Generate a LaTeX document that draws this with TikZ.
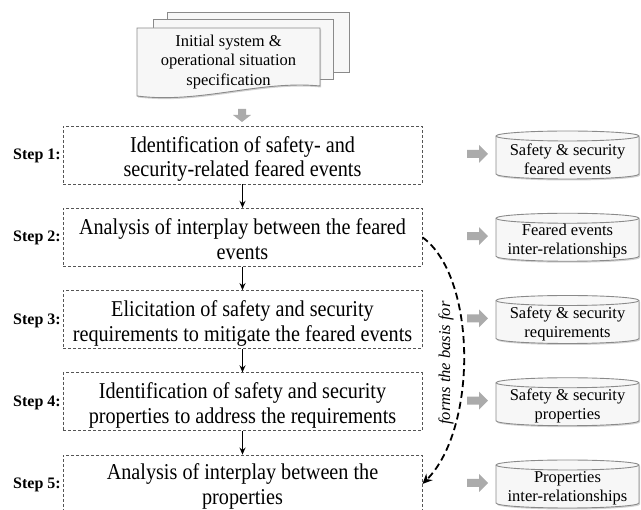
\documentclass[tikz,border=0pt]{standalone}
\usepackage{fontspec}
\setmainfont{Liberation Serif}
\usetikzlibrary{arrows.meta,shadows,calc}
\definecolor{docfill}{HTML}{F7F7F7}
\definecolor{docline}{HTML}{8A8A8A}
\definecolor{garrow}{HTML}{ABABAB}
\definecolor{dashcol}{HTML}{555555}
\newcommand\vstack[1]{\scalebox{1}[1.12]{\begin{tabular}{@{}c@{}}#1\end{tabular}}}
\tikzset{
  stepbox/.style={draw=dashcol, line width=0.8pt, dash pattern=on 3pt off 2pt, minimum width=359pt, minimum height=58pt, inner sep=0pt},
  steptext/.style={align=center, font=\fontsize{20.2}{22.3}\selectfont, inner sep=0pt},
  steplabel/.style={anchor=east, font=\fontsize{16}{19}\selectfont\bfseries, inner sep=0pt},
  flow/.style={-{Stealth[length=7pt,width=6pt]}, line width=1.3pt, black},
  docshape/.style={fill=docfill, draw=docline, line width=0.9pt, drop shadow={shadow xshift=1pt, shadow yshift=-1.5pt, opacity=0.35}},
  cyltext/.style={align=center, font=\fontsize{16.5}{19}\selectfont, inner sep=0pt},
  doctext/.style={align=center, font=\fontsize{16.5}{19.5}\selectfont, inner sep=0pt},
  basisline/.style={-{Stealth[length=10pt,width=9pt]}, line width=1.8pt, dash pattern=on 7pt off 4pt, black},
  basistext/.style={rotate=90, font=\fontsize{16.5}{19}\selectfont\itshape, inner sep=0pt},
  rarrow/.pic={\fill[garrow] (-10.5,-4) -- (1.5,-4) -- (1.5,-9) -- (10.5,0) -- (1.5,9) -- (1.5,4) -- (-10.5,4) -- cycle;},
  darrow/.pic={\fill[garrow] (-4,-6.5) -- (4,-6.5) -- (4,-0.5) -- (9,-0.5) -- (0,6.5) -- (-9,-0.5) -- (-4,-0.5) -- cycle;},
  cylpic/.pic={
    \path[docshape] (-71.5,-19) -- (-71.5,19) arc[start angle=180, end angle=360, x radius=71.5pt, y radius=5pt] -- (71.5,-19) arc[start angle=0, end angle=180, x radius=71.5pt, y radius=5pt] -- cycle;
    \draw[docline, line width=0.9pt] (-71.5,-19) arc[start angle=180, end angle=360, x radius=71.5pt, y radius=5pt];
  }
}
\begin{document}
\begin{tikzpicture}[x=1pt,y=-1pt]
\useasboundingbox (0,0) rectangle (641,510);
% document stack
\path[docshape] (167,12) rectangle (349,72);
\path[docshape] (153,19) rectangle (333,79);
\path[docshape] (137,28) -- (320,28) -- (320,86) .. controls (260,80) and (200,104) .. (137,96) -- cycle;
\node[doctext] (d) at (228.5,62) {Initial system \&\\operational situation\\specification};
\pic at (242,115.5) {darrow};
% steps
\node[stepbox] (s1) at (242.5,155) {};
\node[stepbox] (s2) at (242.5,237.25) {};
\node[stepbox] (s3) at (242.5,319.5) {};
\node[stepbox] (s4) at (242.5,401.75) {};
\node[stepbox] (s5) at (242.5,484) {};
\node[steptext] (t1) at ($(s1.center)+(0,4.5)$) {\vstack{Identification of safety- and\\security-related feared events}};
\node[steptext] (t2) at ($(s2.center)+(0,4.5)$) {\vstack{Analysis of interplay between the feared\\events}};
\node[steptext] (t3) at ($(s3.center)+(0,4.5)$) {\vstack{Elicitation of safety and security\\requirements to mitigate the feared events}};
\node[steptext] (t4) at ($(s4.center)+(0,4.5)$) {\vstack{Identification of safety and security\\properties to address the requirements}};
\node[steptext] (t5) at ($(s5.center)+(0,3)$) {\vstack{Analysis of interplay between the\\properties}};
\node[steplabel] (l1) at (61,156) {Step 1:};
\node[steplabel] (l2) at (61,238.25) {Step 2:};
\node[steplabel] (l3) at (61,320.5) {Step 3:};
\node[steplabel] (l4) at (61,402.75) {Step 4:};
\node[steplabel] (l5) at (61,485) {Step 5:};
\draw[flow] (s1) -- (s2);
\draw[flow] (s2) -- (s3);
\draw[flow] (s3) -- (s4);
\draw[flow] (s4) -- (s5);
% forms the basis for
\draw[basisline] (s2.east) .. controls ($(s2.east)+(55,40)$) and ($(s5.east)+(55,-55)$) .. (s5.east);
\node[basistext] (fb) at (446,363) {forms the basis for};
% outputs
\pic at (477.5,154) {rarrow};
\pic at (477.5,236.25) {rarrow};
\pic at (477.5,318.5) {rarrow};
\pic at (477.5,400.75) {rarrow};
\pic at (477.5,483) {rarrow};
\pic at (567.5,155) {cylpic};
\pic at (567.5,237.25) {cylpic};
\pic at (567.5,319.5) {cylpic};
\pic at (567.5,401.75) {cylpic};
\pic at (567.5,484) {cylpic};
\node[cyltext] (c1) at (567.5,159) {Safety \& security\\feared events};
\node[cyltext] (c2) at (567.5,241.25) {Feared events\\inter-relationships};
\node[cyltext] (c3) at (567.5,323.5) {Safety \& security\\requirements};
\node[cyltext] (c4) at (567.5,405.75) {Safety \& security\\properties};
\node[cyltext] (c5) at (567.5,488) {Properties\\inter-relationships};
\end{tikzpicture}
\end{document}
